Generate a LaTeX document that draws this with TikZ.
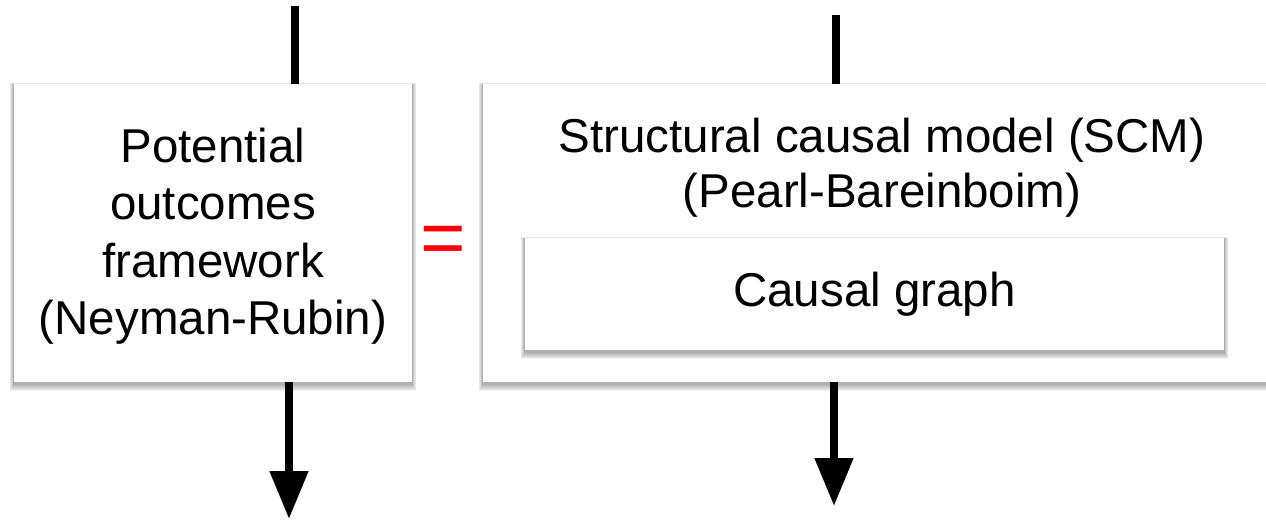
\documentclass[tikz,border=0pt]{standalone}
\usepackage{fontspec}
\setmainfont{Liberation Sans}
\usetikzlibrary{arrows.meta}
\begin{document}
\begin{tikzpicture}[x=1pt,y=-1pt,
  cardshape/.style={inner sep=0pt, outer sep=0pt},
  cardfill/.style={fill=white},
  shadowlayer/.style={fill=black, opacity=0.05},
  label/.style={font=\fontsize{47.5}{57.5}\selectfont, align=center, inner sep=0pt},
  flow/.style={line width=8pt, black},
  flowtip/.style={flow, -{Triangle[length=48pt,width=37pt]}}]
\useasboundingbox (0,0) rectangle (1266,520);

% soft shadow under a card (heavier below), then the white card itself
\newcommand\softcard[1]{%
  \foreach \k in {1,...,7}{%
    \path[shadowlayer]
      ([xshift=-0.6*\k pt, yshift=0.1*\k pt]#1.north west) rectangle
      ([xshift=0.6*\k pt, yshift=-1.5pt-\k pt]#1.south east);
  }%
  \path[cardfill] (#1.north west) rectangle (#1.south east);
}

% card outlines
\node[cardshape, minimum width=398pt, minimum height=298pt] (L) at (213,233) {};
\node[cardshape, minimum width=795pt, minimum height=298pt] (R) at (880.5,233) {};
\node[cardshape, minimum width=699pt, minimum height=112pt] (G) at (874.5,294) {};

\softcard{L}
\softcard{R}
\softcard{G}

% texts
\node[label] (Ltext) at (213,236) {Potential\\outcomes\\framework\\(Neyman-Rubin)};
\node[label, font=\fontsize{47.5}{55}\selectfont] (Rtext) at (882,168) {Structural causal model (SCM)\\(Pearl-Bareinboim)};
\node[label] (Gtext) at (G.center) {Causal graph};

% equality sign between the two frameworks
\node[font=\fontsize{78}{80}\selectfont, text=red, inner sep=0pt] (eq) at (443,245) {=};

% incoming and outgoing flows
\coordinate (Lin) at (295,6);
\coordinate (Lout) at (289,519);
\coordinate (Rin) at (835.5,15);
\coordinate (Rout) at (834,506);
\draw[flow] (Lin) -- (Lin |- L.north);
\draw[flowtip] (L.south -| Lout) -- (Lout);
\draw[flow] (Rin) -- (Rin |- R.north);
\draw[flowtip] (R.south -| Rout) -- (Rout);
\end{tikzpicture}
\end{document}
